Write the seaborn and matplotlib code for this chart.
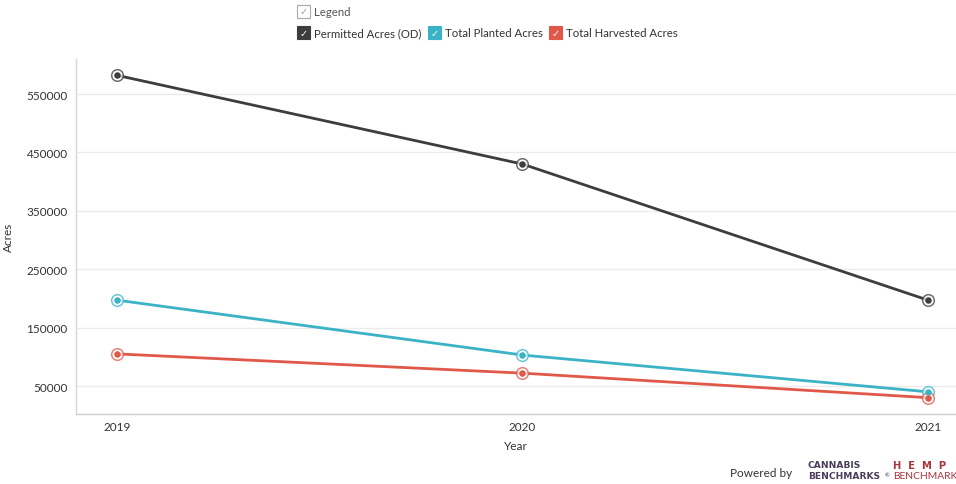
import matplotlib
matplotlib.use("Agg")
import matplotlib.pyplot as plt
from matplotlib.patches import Rectangle
import seaborn as sns
import pandas as pd

years = [2019, 2020, 2021]
permitted = [582000, 430000, 197000]
planted = [197000, 103000, 40000]
harvested = [105000, 72000, 30000]
series_names = ["Permitted Acres (OD)", "Total Planted Acres", "Total Harvested Acres"]
series_colors = ["#3d3d3f", "#3bb3c6", "#e0584a"]
y_ticks = [50000, 150000, 250000, 350000, 450000, 550000]

sns.set_theme(style="white")
plt.rcParams["font.family"] = ["Lato", "DejaVu Sans"]

df = pd.DataFrame({
    "Year": years * 3,
    "Acres": permitted + planted + harvested,
    "Series": [series_names[0]] * 3 + [series_names[1]] * 3 + [series_names[2]] * 3,
})

fig = plt.figure(figsize=(9.56, 4.85), dpi=100)
ax = fig.add_axes([76 / 956, 70 / 485, 880 / 956, 355 / 485])

palette = dict(zip(series_names, series_colors))
sns.lineplot(data=df, x="Year", y="Acres", hue="Series", palette=palette,
             linewidth=2.0, legend=False, ax=ax, zorder=3)

# ringed point markers
for name, col in zip(series_names, series_colors):
    sub = df[df["Series"] == name]
    ax.scatter(sub["Year"], sub["Acres"], s=70, facecolor="white",
               edgecolor=col, linewidth=1.1, alpha=0.75, zorder=4)
    ax.scatter(sub["Year"], sub["Acres"], s=22, color=col, linewidth=0, zorder=5)

ax.set_xlim(2018.899, 2021.069)
ax.set_ylim(2055, 609932)
ax.set_xticks(years)
ax.set_xticklabels([str(y) for y in years])
ax.set_yticks(y_ticks)
ax.set_yticklabels([str(v) for v in y_ticks])
ax.tick_params(axis="both", labelsize=8.5, colors="#333333", length=0)
ax.tick_params(axis="y", pad=6)
ax.tick_params(axis="x", pad=5)
ax.grid(axis="y", color="#ebebeb", linewidth=1)
ax.set_axisbelow(True)
for side in ["top", "right"]:
    ax.spines[side].set_visible(False)
ax.spines["left"].set_color("#d6d6d6")
ax.spines["bottom"].set_color("#cccccc")
ax.spines["left"].set_linewidth(1)
ax.spines["bottom"].set_linewidth(1)
ax.set_xlabel("Year", fontsize=8.5, color="#333333", labelpad=6)
ax.set_ylabel("Acres", fontsize=8.5, color="#333333", labelpad=9)

# legend at the top
W, H = 956, 485

def fx(px):
    return px / W

def fy(py):
    return 1 - py / H

box = 13
fig.patches.append(Rectangle((fx(297), fy(19)), box / W, box / H, transform=fig.transFigure,
                             facecolor="white", edgecolor="#aaaaaa", linewidth=0.8))
fig.text(fx(303.5), fy(12.5), "✓", fontsize=7, color="#999999", ha="center", va="center",
         family="DejaVu Sans")
fig.text(fx(314), fy(12.5), "Legend", fontsize=8.2, color="#555555", va="center")

legend_x = [297, 428, 549]
for lx, name, col in zip(legend_x, series_names, series_colors):
    fig.patches.append(Rectangle((fx(lx), fy(40)), box / W, box / H, transform=fig.transFigure,
                                 facecolor=col, edgecolor=col, linewidth=0.8))
    fig.text(fx(lx + 6.5), fy(33.5), "✓", fontsize=7, color="white", ha="center", va="center",
             family="DejaVu Sans")
    fig.text(fx(lx + 17), fy(33.5), name, fontsize=8.2, color="#333333", va="center")

# footer
fig.text(fx(730), fy(474), "Powered by", fontsize=8.5, color="#333333", va="center")
fig.text(fx(808), fy(466), "CANNABIS", fontsize=6.6, color="#4a3d5c", va="center",
         fontweight="bold", family="DejaVu Sans")
fig.text(fx(808), fy(477), "BENCHMARKS", fontsize=6.6, color="#4a3d5c", va="center",
         fontweight="bold", family="DejaVu Sans")
fig.text(fx(885), fy(476), "®", fontsize=4, color="#4a3d5c", va="center")
fig.text(fx(893), fy(466), "H  E  M  P", fontsize=7.2, color="#a8343c", va="center",
         fontweight="bold", family="DejaVu Sans")
fig.text(fx(893), fy(477), "BENCHMARK", fontsize=7.4, color="#a8343c", va="center")

fig.savefig("out.png", dpi=100, facecolor="white")
